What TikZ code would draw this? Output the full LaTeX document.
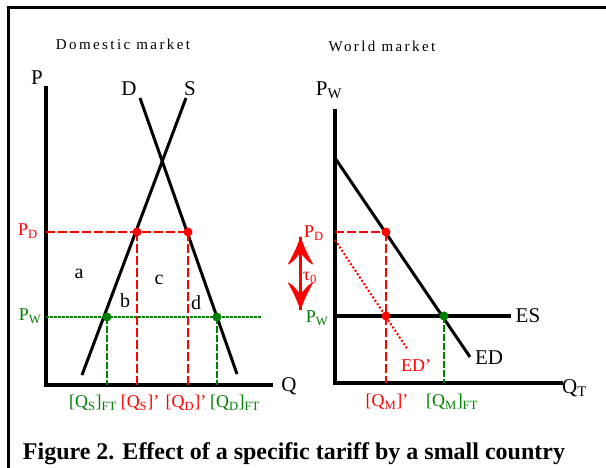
\documentclass[tikz,border=0pt]{standalone}
\usepackage{fontspec}
\setmainfont{Liberation Serif}
\definecolor{myred}{RGB}{255,0,0}
\definecolor{mygreen}{RGB}{0,128,0}
\newcommand\sbs[1]{\textsubscript{#1}}
\newcommand\wingpath{(0,0) .. controls (-2,8) and (-7,18) .. (-12,27) .. controls (-8,25) and (-4,20) .. (0,15) .. controls (4,20) and (8,25) .. (12,27) .. controls (7,18) and (2,8) .. (0,0) -- cycle}
\begin{document}
\begin{tikzpicture}[x=1pt,y=-1pt,
 axis/.style={line width=3.6pt},
 curve/.style={line width=3pt},
 frameline/.style={line width=3pt},
 reddash/.style={myred,line width=2pt,dash pattern=on 9pt off 3pt},
 greendash/.style={mygreen,line width=1.8pt,dash pattern=on 7pt off 2pt},
 greendot/.style={mygreen,line width=1.8pt,dash pattern=on 2.5pt off 1.5pt},
 reddot/.style={myred,line width=2pt,dash pattern=on 2pt off 2pt},
 dotr/.style={circle,fill=myred,inner sep=0pt,minimum size=9pt},
 dotg/.style={circle,fill=mygreen,inner sep=0pt,minimum size=9pt},
 big/.style={inner sep=0pt,font=\fontsize{21}{21}\selectfont},
 mid/.style={inner sep=0pt,font=\fontsize{20}{20}\selectfont},
 redlab/.style={inner sep=0pt,text=myred,font=\fontsize{18}{18}\selectfont},
 greenlab/.style={inner sep=0pt,text=mygreen,font=\fontsize{18}{18}\selectfont},
 title/.style={inner sep=0pt,font=\fontsize{15}{15}\selectfont\addfontfeature{LetterSpace=16}},
 caption/.style={inner sep=0pt,font=\fontsize{24}{24}\selectfont\bfseries},
 wing/.style={fill=myred,draw=myred,line width=0.8pt,line join=round},
]
\useasboundingbox (0,0) rectangle (606,468);
% frame
\coordinate (fbl) at (8,468);
\coordinate (ftl) at (8,8);
\coordinate (ftr) at (606,8);
\draw[frameline] (fbl) -- (ftl) -- (ftr);

% ---------- Domestic market ----------
\node[title] (t1) at (123,44) {Domestic market};
\coordinate (Lytop) at (46,86);
\coordinate (Lorig) at (46,385);
\coordinate (Lxend) at (273,385);
\draw[axis] (Lytop) -- (Lorig) -- (Lxend);
\node[big] (Plab) at (37,78) {P};
\node[big] (Qlab) at (289,386) {Q};
\coordinate (Dtop) at (140,98);
\coordinate (Dbot) at (237,374);
\coordinate (Stop) at (186,98);
\coordinate (Sbot) at (82,375);
\draw[curve] (Dtop) -- (Dbot);
\draw[curve] (Stop) -- (Sbot);
\node[big] (Dlab) at (129,89) {D};
\node[big] (Slab) at (190,89) {S};

% P_D line
\coordinate (PDl) at (46,232);
\node[dotr] (sd1) at (137,232) {};
\node[dotr] (dd1) at (188,232) {};
\draw[reddash] (PDl) -- (dd1.center);
\node[redlab] (PDlab) at (28,231) {P\sbs{D}};
% P_W line
\coordinate (PWl) at (46,317);
\coordinate (PWr) at (262,317);
\draw[greendot] (PWl) -- (PWr);
\node[dotg] (sw1) at (107,317) {};
\node[dotg] (dw1) at (217,317) {};
\node[greenlab] (PWlab) at (30,316) {P\sbs{W}};
% verticals
\coordinate (b1) at (107,385);
\coordinate (b2) at (137,385);
\coordinate (b3) at (188,385);
\coordinate (b4) at (217,385);
\draw[greendash] (sw1.center) -- (b1);
\draw[reddash] (sd1.center) -- (b2);
\draw[reddash] (dd1.center) -- (b3);
\draw[greendash] (dw1.center) -- (b4);
% areas
\node[mid] (la) at (79,274) {a};
\node[mid] (lb) at (125,301) {b};
\node[mid] (lc) at (159,280) {c};
\node[mid] (ld) at (196,303) {d};
% bottom labels
\node[greenlab] (qs1) at (93,403) {[Q\sbs{S}]\sbs{FT}};
\node[redlab] (qs2) at (140,403) {[Q\sbs{S}]'};
\node[redlab] (qd2) at (186,403) {[Q\sbs{D}]'};
\node[greenlab] (qd1) at (235,403) {[Q\sbs{D}]\sbs{FT}};

% ---------- World market ----------
\node[title] (t2) at (382,46) {World market};
\coordinate (Rytop) at (335,109);
\coordinate (Rorig) at (335,383);
\coordinate (Rxend) at (563,383);
\draw[axis] (Rytop) -- (Rorig) -- (Rxend);
\node[big] (PWtop) at (329,90) {P\sbs{W}};
\node[big,anchor=west] (QTlab) at (562,388) {Q\sbs{T}};
% ES
\coordinate (ESl) at (335,316);
\coordinate (ESr) at (511,316);
\draw[axis] (ESl) -- (ESr);
\node[big] (ESlab) at (528,316) {ES};
% ED
\coordinate (EDtop) at (335,158);
\coordinate (EDbot) at (470,357);
\draw[curve] (EDtop) -- (EDbot);
\node[big] (EDlab) at (489,358) {ED};
% ED'
\coordinate (EDPtop) at (335,240);
\coordinate (EDPbot) at (408,350);
\draw[reddot] (EDPtop) -- (EDPbot);
\node[redlab] (EDPlab) at (416,366) {ED'};
% P_D
\coordinate (RPDl) at (335,232);
\node[dotr] (rd) at (386,232) {};
\draw[reddash] (RPDl) -- (rd.center);
\node[dotr] (rw) at (386,316) {};
\coordinate (rb) at (386,383);
\draw[reddash] (rd.center) -- (rb);
\node[dotg] (gw) at (444,316) {};
\coordinate (gb) at (444,383);
\draw[greendash] (gw.center) -- (gb);
\node[redlab] (RPDlab) at (314,233) {P\sbs{D}};
\node[greenlab] (RPWlab) at (317,318) {P\sbs{W}};
\node[redlab] (qm1) at (387,402) {[Q\sbs{M}]'};
\node[greenlab] (qm2) at (452,402) {[Q\sbs{M}]\sbs{FT}};
% tau arrow
\coordinate (tt) at (300.5,237);
\coordinate (tb) at (300.5,310);
\draw[myred,line width=2.6pt] (tt) -- (tb);
\begin{scope}[shift={(tt)}]
 \filldraw[wing] \wingpath;
\end{scope}
\begin{scope}[shift={(tb)},yscale=-1]
 \filldraw[wing] \wingpath;
\end{scope}
\node[redlab] (tau) at (310,278) {τ\sbs{0}};

% caption
\node[caption] (cap) at (294,454) {Figure 2. Effect of a specific tariff by a small country};
\end{tikzpicture}
\end{document}
